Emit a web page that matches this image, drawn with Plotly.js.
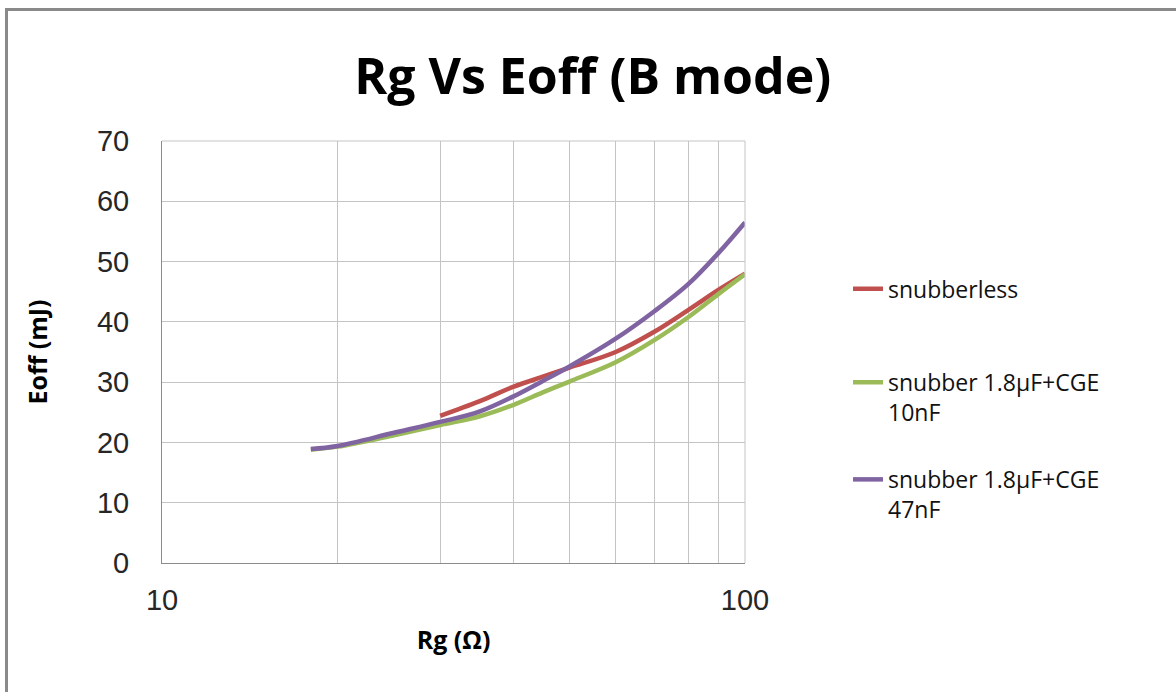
<!DOCTYPE html>
<html>
<head>
<meta charset="utf-8">
<script src="https://cdn.plot.ly/plotly-3.0.1.min.js"></script>
<style>
  html, body { margin: 0; padding: 0; background: #ffffff; }
  #chart { width: 1176px; height: 692px; position: relative; }
  #frame { position: absolute; left: 5px; top: 8px; width: 1200px; height: 700px;
           border-left: 3px solid #8a8a8a; border-top: 3px solid #8a8a8a; pointer-events: none; }
</style>
</head>
<body>
<div id="chart"></div>
<div id="frame"></div>
<script>
// Rg (ohm) sample points
const rgSnubberless = [30, 35, 40, 45, 50, 60, 70, 80, 90, 100];
const eoffSnubberless = [24.4, 26.8, 29.2, 30.9, 32.4, 35.0, 38.4, 42.0, 45.3, 48.0];

const rgSnub10 = [18, 20, 25, 30, 35, 40, 45, 50, 60, 70, 80, 90, 100];
const eoffSnub10 = [18.8, 19.3, 21.2, 22.9, 24.3, 26.2, 28.3, 30.1, 33.3, 37.0, 40.8, 44.6, 47.9];

const rgSnub47 = [18, 20, 25, 30, 35, 40, 45, 50, 60, 70, 80, 90, 100];
const eoffSnub47 = [18.9, 19.4, 21.6, 23.4, 25.1, 27.6, 30.2, 32.6, 37.2, 41.8, 46.3, 51.4, 56.5];

const seriesNames = ["snubberless", "snubber 1.8µF+CGE<br>10nF", "snubber 1.8µF+CGE<br>47nF"];
const seriesColors = ["#C0504D", "#9BBB59", "#8064A2"];
const legendIds = ["legend", "legend2", "legend3"];

const xTickVals = [10, 20, 30, 40, 50, 60, 70, 80, 90, 100];
const xTickText = ["10", "", "", "", "", "", "", "", "", "100"];
const yTickVals = [0, 10, 20, 30, 40, 50, 60, 70];

const xs = [rgSnubberless, rgSnub10, rgSnub47];
const ys = [eoffSnubberless, eoffSnub10, eoffSnub47];

const traces = xs.map((x, i) => ({
  x: x, y: ys[i], name: seriesNames[i], type: 'scatter', mode: 'lines',
  line: { color: seriesColors[i], width: 4.5, shape: 'spline', smoothing: 1 },
  legend: legendIds[i]
}));

const tickFont = { family: '"Liberation Sans", Arial, sans-serif', size: 29, color: '#262626' };
const titleFamily = '"Open Sans", Lato, sans-serif';
const legendFont = { family: titleFamily, size: 23, color: '#111' };

function legendAt(yTop) {
  return { x: 1.1767, xanchor: 'left', y: yTop, yanchor: 'top', valign: 'top',
           font: legendFont, bgcolor: 'rgba(0,0,0,0)', itemwidth: 30 };
}

const layout = {
  width: 1176, height: 692,
  margin: { l: 162, r: 431, t: 141, b: 129, pad: 0 },
  paper_bgcolor: '#ffffff', plot_bgcolor: '#ffffff',
  title: { text: 'Rg Vs Eoff (B mode)', x: 0.504, xanchor: 'center', y: 0.89, yanchor: 'middle',
           font: { family: titleFamily, size: 50, color: '#000', weight: 'bold' } },
  xaxis: {
    type: 'log', range: [1, 2], tickmode: 'array', tickvals: xTickVals, ticktext: xTickText,
    showgrid: true, gridcolor: '#c4c4c4', gridwidth: 1,
    showline: true, linecolor: '#8c8c8c', linewidth: 1, mirror: false,
    ticks: '', tickfont: tickFont, ticklabelstandoff: 11, zeroline: false,
    title: { text: 'Rg (Ω)', standoff: 16, font: { family: titleFamily, size: 25, color: '#000', weight: 'bold' } }
  },
  yaxis: {
    range: [0, 70], tickmode: 'array', tickvals: yTickVals,
    showgrid: true, gridcolor: '#c4c4c4', gridwidth: 1,
    showline: true, linecolor: '#8c8c8c', linewidth: 1,
    ticks: '', tickfont: tickFont, ticklabelstandoff: 26, zeroline: false,
    title: { text: 'Eoff (mJ)', standoff: 42, font: { family: titleFamily, size: 25, color: '#000', weight: 'bold' } }
  },
  showlegend: true,
  legend: legendAt(0.701),
  legend2: legendAt(0.479),
  legend3: legendAt(0.249),
  shapes: [
    { type: 'line', xref: 'paper', yref: 'paper', x0: 0, x1: 1, y0: 1, y1: 1, line: { color: '#c4c4c4', width: 1 } },
    { type: 'line', xref: 'paper', yref: 'paper', x0: 1, x1: 1, y0: 0, y1: 1, line: { color: '#c4c4c4', width: 1 } }
  ]
};

Plotly.newPlot('chart', traces, layout, { displayModeBar: false, staticPlot: true });
</script>
</body>
</html>
